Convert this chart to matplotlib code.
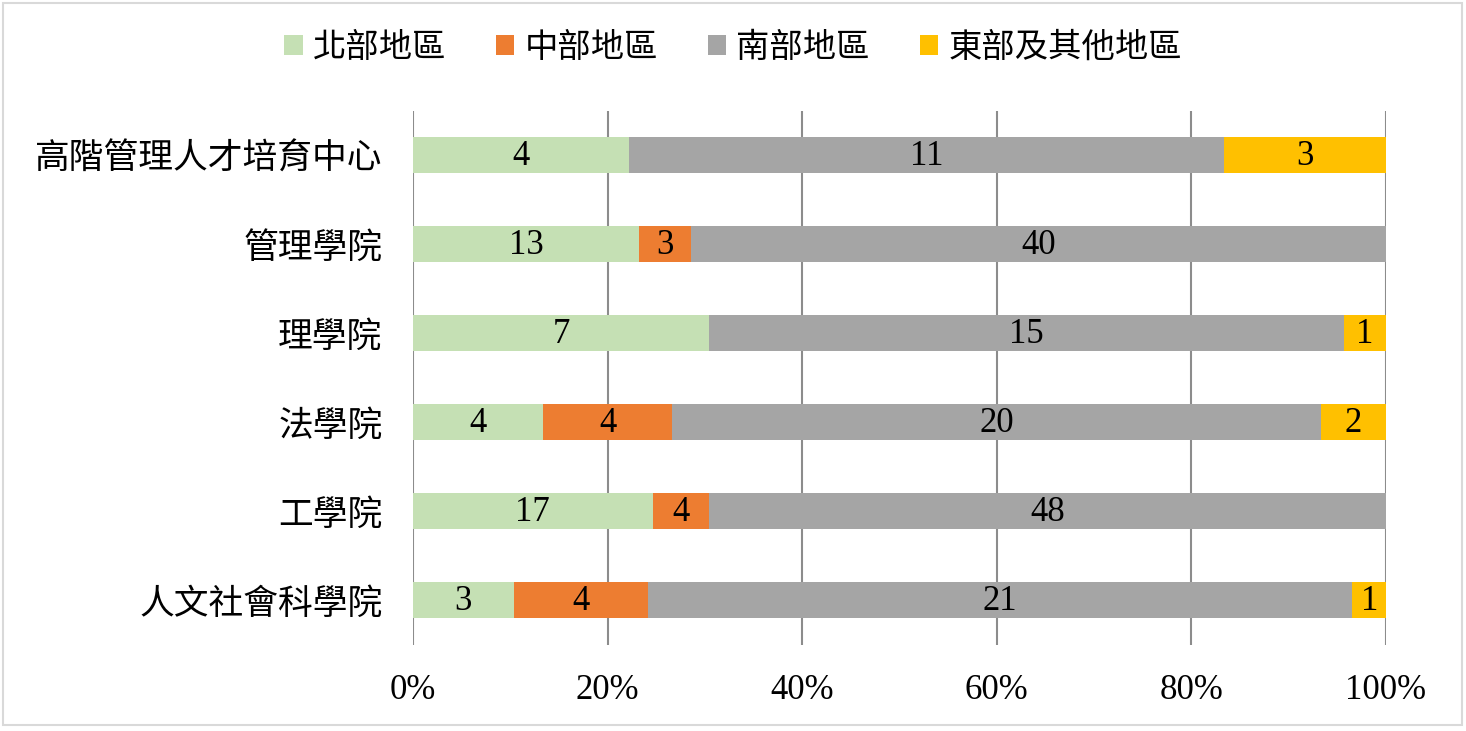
import numpy as np
import matplotlib.pyplot as plt
from matplotlib.patches import Rectangle

plt.rcParams['font.family'] = ['Noto Sans CJK TC', 'DejaVu Sans']

# categories, top to bottom as shown
categories = ['高階管理人才培育中心', '管理學院', '理學院', '法學院', '工學院', '人文社會科學院']
series_names = ['北部地區', '中部地區', '南部地區', '東部及其他地區']
north = [4, 13, 7, 4, 17, 3]
central = [0, 3, 0, 4, 4, 4]
south = [11, 40, 15, 20, 48, 21]
east = [3, 0, 1, 2, 0, 1]
colors = ['#C5E0B4', '#ED7D31', '#A5A5A5', '#FFC000']
xticks = [0, 20, 40, 60, 80, 100]

data = np.array([north, central, south, east], dtype=float)
totals = data.sum(axis=0)
pct = data / totals * 100

fig = plt.figure(figsize=(14.66, 7.31), dpi=100)
ax = fig.add_axes([413/1466, 1 - 644.5/731, (1386-413)/1466, (644.5-110.5)/731])

ypos = np.arange(len(categories))[::-1]
left = np.zeros(len(categories))
for i, name in enumerate(series_names):
    ax.barh(ypos, pct[i], left=left, height=0.405, color=colors[i], label=name, zorder=3)
    for j in range(len(categories)):
        if data[i, j] > 0:
            ax.text(left[j] + pct[i, j] / 2, ypos[j] - 0.02, str(int(data[i, j])),
                    ha='center', va='center', fontsize=25,
                    family='Liberation Serif', zorder=4)
    left += pct[i]

ax.set_xlim(0, 100)
ax.set_ylim(-0.5, len(categories) - 0.5)
ax.set_xticks(xticks)
ax.set_xticklabels([f'{t}%' for t in xticks], family='Liberation Serif', fontsize=25)
ax.set_yticks(ypos)
ax.set_yticklabels(categories, fontsize=25)
ax.tick_params(axis='both', length=0)
ax.tick_params(axis='x', pad=21)
ax.tick_params(axis='y', pad=22)
for s in ax.spines.values():
    s.set_visible(False)
ax.grid(axis='x', color='#8C8C8C', linewidth=1.5, zorder=0)
ax.set_axisbelow(True)

leg = fig.legend(loc='center', bbox_to_anchor=(0.5, 1 - 47/731), ncol=4, frameon=False,
                 fontsize=24, handlelength=0.55, handleheight=0.55, handletextpad=0.3,
                 columnspacing=1.5)

# light outer border
fig.patches.append(Rectangle((0.002, 0.008), 0.995, 0.988, transform=fig.transFigure,
                             fill=False, edgecolor='#D9D9D9', linewidth=1.5))

fig.savefig('out.png', dpi=100)
